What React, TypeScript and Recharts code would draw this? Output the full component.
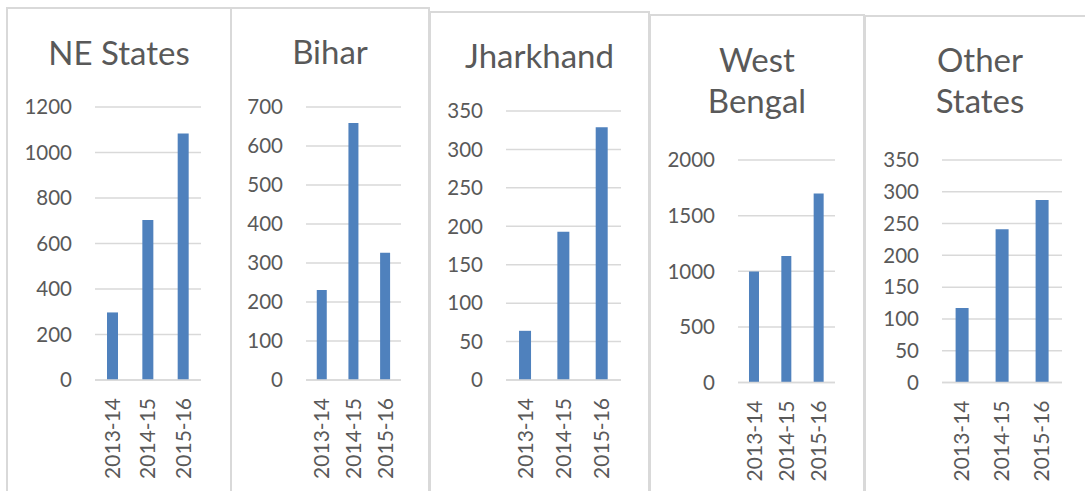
import { BarChart, Bar, XAxis, YAxis, CartesianGrid } from 'recharts';

const years = ['2013-14', '2014-15', '2015-16'];

const neStates = [297, 703, 1083];
const bihar = [231, 659, 326];
const jharkhand = [64, 193, 329];
const westBengal = [998, 1138, 1700];
const otherStates = [117, 241, 287];

const neTicks = [0, 200, 400, 600, 800, 1000, 1200];
const biharTicks = [0, 100, 200, 300, 400, 500, 600, 700];
const jharkhandTicks = [0, 50, 100, 150, 200, 250, 300, 350];
const wbTicks = [0, 500, 1000, 1500, 2000];
const otherTicks = [0, 50, 100, 150, 200, 250, 300, 350];

const FONT = 'Lato, "Open Sans", sans-serif';
const TEXT = '#595959';
const GRID = '#d9d9d9';
const BAR = '#4f81bd';

// page coordinates of each panel box and its plot area
const panels = [
    { title: ['NE States'], values: neStates, ticks: neTicks, box: [7, 8, 231], plot: [95, 201, 107, 380], titleY: [65] },
    { title: ['Bihar'], values: bihar, ticks: biharTicks, box: [231, 8, 429], plot: [306, 401, 107, 380], titleY: [64] },
    { title: ['Jharkhand'], values: jharkhand, ticks: jharkhandTicks, box: [430, 12, 649], plot: [506, 621, 111, 380], titleY: [68] },
    { title: ['West', 'Bengal'], values: westBengal, ticks: wbTicks, box: [650, 15, 864], plot: [738, 835, 160, 382.5], titleY: [72, 113] },
    { title: ['Other', 'States'], values: otherStates, ticks: otherTicks, box: [865, 16, 1095], plot: [942, 1062, 160, 382.5], titleY: [72, 113] },
];

const YearTick = (props: any) => {
    const { x, y, payload } = props;
    return (
        <g transform={`translate(${x},${y + 16})`}>
            <text transform="rotate(-90)" textAnchor="end" dy="0.35em" fill={TEXT} fontSize={21} fontFamily={FONT}>
                {payload.value}
            </text>
        </g>
    );
};

const Panel = ({ p }: { p: any }) => {
    const [L, T, R] = p.box;
    const [gx0, gx1, gy0, gy1] = p.plot;
    const W = R - L;
    const H = 491 - T;
    const xAxisH = 100;
    const data = years.map((y, i) => ({ year: y, value: p.values[i] }));
    const max = p.ticks[p.ticks.length - 1];

    return (
        <>
            <div
                style={{
                    position: 'absolute',
                    left: L - 1,
                    top: T - 1,
                    width: W + 2,
                    height: 600,
                    border: `2px solid ${GRID}`,
                    boxSizing: 'border-box',
                    background: '#fff',
                }}
            />
            <div style={{ position: 'absolute', left: L, top: T }}>
                <BarChart
                    width={W}
                    height={H}
                    data={data}
                    margin={{ left: 0, right: R - gx1, top: gy0 - T, bottom: H - (gy1 - T) - xAxisH }}
                    barCategoryGap="34%"
                >
                    <CartesianGrid stroke={GRID} strokeWidth={1.5} vertical={false} />
                    <XAxis
                        dataKey="year"
                        height={xAxisH}
                        tick={<YearTick />}
                        tickLine={false}
                        tickSize={0}
                        axisLine={{ stroke: GRID, strokeWidth: 1.5 }}
                        interval={0}
                    />
                    <YAxis
                        width={gx0 - L}
                        domain={[0, max]}
                        ticks={p.ticks}
                        interval={0}
                        tickLine={false}
                        tickSize={0}
                        tickMargin={23}
                        axisLine={false}
                        tick={{ fill: TEXT, fontSize: 20.5, fontFamily: FONT }}
                    />
                    <Bar dataKey="value" fill={BAR} isAnimationActive={false} />
                </BarChart>
            </div>
            <svg style={{ position: 'absolute', left: L, top: 0 }} width={W} height={130}>
                {p.title.map((t: string, i: number) => (
                    <text key={t} x={W / 2} y={p.titleY[i]} textAnchor="middle" fill={TEXT} fontSize={33} fontFamily={FONT}>
                        {t}
                    </text>
                ))}
            </svg>
        </>
    );
};

export default function App() {
    return (
        <div style={{ position: 'absolute', left: 0, top: 0, width: 1085, height: 491, overflow: 'hidden', background: '#fff' }}>
            {panels.map((p) => (
                <Panel key={p.title.join(' ')} p={p} />
            ))}
        </div>
    );
}
